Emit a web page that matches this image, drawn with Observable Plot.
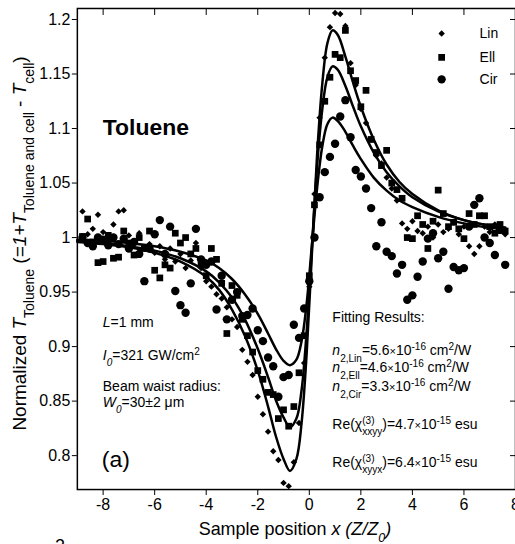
<!DOCTYPE html>
<html><head><meta charset="utf-8">
<script src="https://cdn.jsdelivr.net/npm/d3@7"></script>
<script src="https://cdn.jsdelivr.net/npm/@observablehq/plot@0.6"></script>
<style>
html,body{margin:0;padding:0;background:#fff;overflow:hidden;}
#chart{position:relative;width:515px;height:544px;overflow:hidden;}
svg text{font-family:Arial,"Liberation Sans",sans-serif;}
</style></head><body><div id="chart"></div>
<script>
// sample positions (Z/Z0)
const xs = [-8.8,-8.6,-8.4,-8.2,-8.0,-7.8,-7.6,-7.4,-7.2,-7.0,
-6.8,-6.6,-6.4,-6.2,-6.0,-5.8,-5.6,-5.4,-5.2,-5.0,
-4.8,-4.6,-4.4,-4.2,-4.0,-3.8,-3.6,-3.4,-3.2,-3.0,
-2.8,-2.6,-2.4,-2.2,-2.0,-1.8,-1.6,-1.4,-1.2,-1.0,
-0.8,-0.6,-0.4,-0.2,0.0,0.2,0.4,0.6,0.8,1.0,
1.2,1.4,1.6,1.8,2.0,2.2,2.4,2.6,2.8,3.0,
3.2,3.4,3.6,3.8,4.0,4.2,4.4,4.6,4.8,5.0,
5.2,5.4,5.6,5.8,6.0,6.2,6.4,6.6,6.8,7.0,
7.2,7.4,7.6];
const linT = [1.024,1.003,1.008,1.021,1.005,0.998,1.012,1.024,1.025,1.002,
0.996,1.004,0.99,0.994,0.986,0.992,0.98,0.99,0.978,0.985,
0.972,0.979,0.995,0.972,0.96,0.955,0.948,0.944,0.936,0.925,
0.918,0.897,0.886,0.874,0.854,0.838,0.822,0.804,0.796,0.775,
0.772,0.794,0.83,0.885,0.955,1.04,1.11,1.165,1.193,1.206,
1.205,1.194,1.16,1.14,1.118,1.105,1.09,1.075,1.068,1.055,
1.045,1.034,1.013,1.008,1.015,1.006,1.004,1.01,1.0,1.012,
1.005,1.008,1.014,1.003,1.01,0.992,0.985,0.992,1.01,1.005,
1.012,1.008,1.003];
const ellT = [1.001,1.017,0.996,0.977,0.978,1.002,0.981,0.982,1.006,0.995,
0.984,1.0,0.99,1.006,0.97,0.963,0.975,0.972,1.004,0.995,
1.0,0.985,0.99,0.975,0.965,0.99,0.98,0.958,0.912,0.956,
0.947,0.925,0.91,0.895,0.878,0.87,0.858,0.856,0.834,0.842,
0.827,0.845,0.876,0.91,0.965,1.03,1.085,1.125,1.147,1.168,
1.165,1.19,1.153,1.144,1.12,1.135,1.09,1.078,1.066,1.08,
1.05,1.044,1.036,1.0,0.999,1.02,1.012,0.99,1.015,1.0435,
1.022,1.01,1.014,1.008,0.999,1.022,1.012,1.02,1.02,1.01,
1.004,1.012,1.006];
const cirT = [1.0,0.995,0.992,1.0,0.998,0.993,1.0,0.994,0.999,0.99,
0.996,0.985,0.96,0.99,1.003,1.016,0.985,1.01,0.951,0.938,
0.931,0.958,1.008,0.98,0.975,0.978,0.934,0.965,0.925,0.943,
0.95,0.928,0.929,0.935,0.915,0.905,0.89,0.882,0.854,0.872,
0.874,0.92,0.908,0.935,0.96,1.0,1.037,1.06,1.074,1.086,
1.111,1.126,1.092,1.062,1.056,1.045,1.027,0.992,1.014,0.987,
0.983,0.967,0.975,0.943,0.947,0.964,0.978,0.999,1.004,0.981,
0.987,0.953,0.973,0.97,0.972,1.01,1.03,1.036,1.0,0.995,
0.984,1.007,0.975];
// fitted curves
const fitX = [-9,-8,-7,-6,-5,-4,-3.5,-3,-2.5,-2,-1.6,-1.3,-1.0,-0.75,-0.5,-0.3,-0.1,0.1,0.3,0.5,0.7,0.9,1.1,1.4,1.7,2,2.5,3,3.5,4,5,6,7,7.6];
const fitLin = [0.996,0.994,0.991,0.986,0.978,0.964,0.952,0.934,0.91,0.878,0.845,0.818,0.797,0.786,0.797,0.83,0.895,0.985,1.075,1.14,1.178,1.19,1.186,1.166,1.142,1.12,1.09,1.067,1.051,1.04,1.025,1.016,1.011,1.009];
const fitEll = [0.997,0.995,0.992,0.988,0.981,0.969,0.959,0.945,0.925,0.898,0.872,0.851,0.835,0.826,0.834,0.86,0.915,0.99,1.065,1.117,1.147,1.157,1.154,1.139,1.12,1.102,1.078,1.06,1.047,1.037,1.024,1.016,1.011,1.009];
const fitCir = [0.998,0.997,0.995,0.992,0.987,0.979,0.972,0.962,0.948,0.93,0.912,0.898,0.887,0.883,0.888,0.905,0.94,0.993,1.045,1.083,1.104,1.11,1.107,1.097,1.084,1.072,1.055,1.043,1.034,1.028,1.019,1.013,1.009,1.008];
const seriesNames = ["Lin","Ell","Cir"];
const xTicks = [-8,-6,-4,-2,0,2,4,6,8];
const yTicks = [0.8,0.85,0.9,0.95,1,1.05,1.1,1.15,1.2];

const pts = (ys) => xs.map((x,i)=>({x, y: ys[i]}));
const fit = (ys) => fitX.map((x,i)=>({x, y: ys[i]}));
const sym = {Lin:{symbol:"diamond2", r:2.9}, Ell:{symbol:"square", r:3.8}, Cir:{symbol:"circle", r:4.2}};
const legendDy = {Lin:25, Ell:49, Cir:71};

const plot = Plot.plot({
  width: 516, height: 544, marginLeft: 77, marginRight: 0, marginTop: 8, marginBottom: 54,
  style: {fontFamily: "Arial, 'Liberation Sans', sans-serif", background: "#fff", color: "#000", overflow: "visible"},
  x: {domain: [-9, 8]},
  y: {domain: [0.7689, 1.2101]},
  marks: [
    Plot.axisX({ticks: xTicks, tickSize: 6, tickPadding: 3, fontSize: 16, tickFormat: d => String(d), label: null}),
    Plot.axisX({anchor: "top", ticks: xTicks, tickSize: 6, dy: 6, tickFormat: () => "", label: null}),
    Plot.axisY({ticks: yTicks, tickSize: 5, tickPadding: 2, fontSize: 16, tickFormat: d => String(d), label: null}),
    Plot.axisY({anchor: "right", ticks: yTicks, tickSize: 6, dx: -6, tickFormat: () => "", label: null}),
    Plot.dot(pts(linT), {x: "x", y: "y", fill: "black", stroke: "none", ...sym.Lin}),
    Plot.dot(pts(ellT), {x: "x", y: "y", fill: "black", stroke: "none", ...sym.Ell}),
    Plot.dot(pts(cirT), {x: "x", y: "y", fill: "black", stroke: "none", ...sym.Cir}),
    Plot.line(fit(fitLin), {x: "x", y: "y", stroke: "black", strokeWidth: 2.5, curve: "catmull-rom"}),
    Plot.line(fit(fitEll), {x: "x", y: "y", stroke: "black", strokeWidth: 2.5, curve: "catmull-rom"}),
    Plot.line(fit(fitCir), {x: "x", y: "y", stroke: "black", strokeWidth: 2.5, curve: "catmull-rom"}),
    ...seriesNames.map(s => Plot.dot([s], {frameAnchor: "top-right", dx: -74, dy: legendDy[s], fill: "black", stroke: "none", ...sym[s]})),
    ...seriesNames.map(s => Plot.text([s], {text: d => d, frameAnchor: "top-right", dx: -36, dy: legendDy[s], textAnchor: "start", lineAnchor: "middle", fontSize: 14, fill: "black"})),
    Plot.frame({stroke: "black", strokeWidth: 1.5})
  ]
});
document.getElementById("chart").appendChild(plot);

const svg = d3.select(plot);
function rich(parent, x, y, pieces, base) {
  let cx = x, prevStart = x, prevEnd = x;
  for (const p of pieces) {
    const fs = p.fs || ((p.sub || p.sup) ? base * 0.72 : base);
    const start = p.stack ? prevStart : cx;
    const off = p.sub ? (p.off ?? base * 0.5) : p.sup ? -(p.off ?? base * 0.36) : 0;
    const el = parent.append("text").attr("x", start).attr("y", y + off)
      .attr("text-anchor", "start")
      .attr("font-size", fs).attr("fill", "black")
      .attr("font-style", p.i ? "italic" : null)
      .attr("font-weight", p.b ? "bold" : null)
      .style("white-space", "pre")
      .text(p.t);
    const w = el.node().getComputedTextLength();
    const end = start + w;
    cx = p.stack ? Math.max(prevEnd, end) : end;
    prevStart = start; prevEnd = end;
  }
  return cx - x;
}
const newG = () => svg.append("g").attr("text-anchor", "start");
const g = newG();
rich(g, 103, 135, [{t: "Toluene", b: 1}], 23);
rich(g, 103, 327.5, [{t: "L", i: 1}, {t: "=1 mm"}], 14);
rich(g, 103, 361, [{t: "I", i: 1}, {t: "0", i: 1, sub: 1, off: 6}, {t: "=321 GW/cm"}, {t: "2", sup: 1}], 14);
rich(g, 103, 392, [{t: "Beam waist radius:"}], 14);
rich(g, 103, 407.7, [{t: "W", i: 1}, {t: "0", i: 1, sub: 1, off: 6}, {t: "=30±2 μm"}], 14);
rich(g, 102, 468, [{t: "(a)"}], 23);
rich(g, 333, 323, [{t: "Fitting Results:"}], 14);
const nLines = [["2,Lin", "=5.6", 356], ["2,Ell", "=4.6", 373], ["2,Cir", "=3.3", 392]];
for (const [sb, v, yy] of nLines) {
  rich(g, 333, yy, [{t: "n", i: 1}, {t: sb, sub: 1, off: 7}, {t: v}, {t: "×", fs: 11}, {t: "10"}, {t: "-16", sup: 1}, {t: " cm"}, {t: "2", sup: 1}, {t: "/W"}], 14);
}
rich(g, 333, 430, [{t: "Re("}, {t: "χ"}, {t: "(3)", sup: 1, off: 5}, {t: "xxyy", sub: 1, stack: 1, off: 6}, {t: ")=4.7"}, {t: "×", fs: 11}, {t: "10"}, {t: "-15", sup: 1}, {t: " esu"}], 14);
rich(g, 333, 467.7, [{t: "Re("}, {t: "χ"}, {t: "(3)", sup: 1, off: 5}, {t: "xyyx", sub: 1, stack: 1, off: 6}, {t: ")=6.4"}, {t: "×", fs: 11}, {t: "10"}, {t: "-15", sup: 1}, {t: " esu"}], 14);

// y axis title (rotated)
const gy = newG();
const wy = rich(gy, 0, 0, [{t: "Normalized "}, {t: "T", i: 1}, {t: "Toluene", sub: 1, fs: 14, off: 8}, {t: " ("}, {t: "=1+T", i: 1}, {t: "Toluene and cell", sub: 1, fs: 14, off: 8}, {t: " - "}, {t: "T", i: 1}, {t: "cell", sub: 1, fs: 14, off: 8}, {t: ")"}], 19);
gy.attr("transform", `translate(26.5,${244 + wy / 2}) rotate(-90)`);

// x axis title
const gx = newG();
const wx = rich(gx, 0, 0, [{t: "Sample position "}, {t: "x", i: 1}, {t: " (Z/Z", i: 1}, {t: "0", i: 1, sub: 1, fs: 12.5, off: 7}, {t: ")", i: 1}], 18);
gx.attr("transform", `translate(${295.5 - wx / 2},536.5)`);

// stray glyph at bottom edge
rich(newG(), 55, 553, [{t: "2"}], 18);
</script></body></html>
